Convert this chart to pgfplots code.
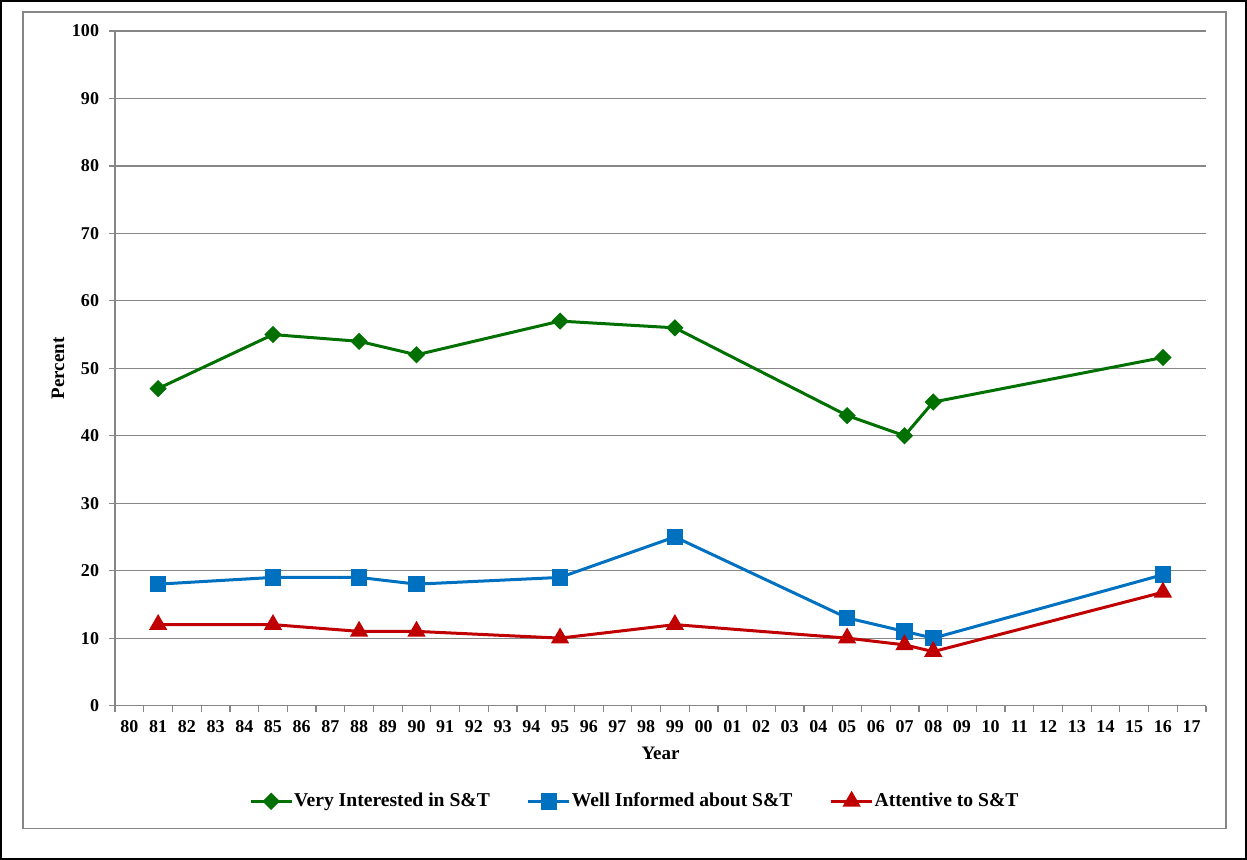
\documentclass[border=0pt]{standalone}
\usepackage{fontspec}
\setmainfont{Liberation Serif}
\usepackage{pgfplots}
\pgfplotsset{compat=1.18}
\definecolor{cgreen}{RGB}{0,112,0}
\definecolor{cblue}{RGB}{0,112,192}
\definecolor{cred}{RGB}{192,0,0}
\definecolor{gridc}{RGB}{134,134,134}
\begin{document}
\begin{tikzpicture}
\draw[black, line width=1pt] (-57pt,-76.5pt) rectangle (565pt,352pt);
\draw[gridc, line width=0.6pt] (-46pt,-61.5pt) rectangle (555pt,346.5pt);
\begin{axis}[
  at={(0pt,0pt)}, anchor=south west,
  scale only axis, width=545pt, height=337pt,
  xmin=-0.5, xmax=37.5, ymin=0, ymax=100,
  xtick={-0.5,0.5,...,37.5},
  x tick label as interval,
  xticklabels={80,81,82,83,84,85,86,87,88,89,90,91,92,93,94,95,96,97,98,99,00,01,02,03,04,05,06,07,08,09,10,11,12,13,14,15,16,17},
  ytick={0,10,...,100},
  tick align=outside,
  major tick length=3pt,
  axis x line*=bottom, axis y line*=left,
  axis line style={gridc, -, line width=0.6pt},
  tick style={gridc, line width=0.6pt},
  ymajorgrids, xmajorgrids=false, grid style={gridc, line width=0.6pt},
  ticklabel style={font=\bfseries\fontsize{9}{10}\selectfont},
  /pgf/number format/assume math mode=true,
  xticklabel style={yshift=-1pt},
  yticklabel style={xshift=-1.5pt},
  xlabel={Year}, ylabel={Percent},
  label style={font=\bfseries\fontsize{9.5}{11}\selectfont},
  xlabel style={yshift=0pt},
  ylabel style={yshift=-3pt},
  legend style={at={(0.476,-0.142)}, anchor=center, draw=none, fill=none,
    font=\bfseries\fontsize{9.8}{11}\selectfont, legend columns=3,
    /tikz/every even column/.append style={column sep=18pt},
    nodes={inner sep=0.5pt}},
  legend image code/.code={\draw[mark repeat=2,mark phase=2,#1] plot coordinates {(0cm,0cm) (0.36cm,0cm) (0.72cm,0cm)};},
  every axis plot/.append style={line width=1.5pt},
]
\addplot[cgreen, mark=square*, mark size=2.3pt, mark options={rotate=45}] coordinates {
 (1,47) (5,55) (8,54) (10,52) (15,57) (19,56) (25,43) (27,40) (28,45) (36,51.6)};
\addlegendentry{Very Interested in S\&T}
\addplot[cblue, mark=square*, mark size=3.4pt] coordinates {
 (1,18) (5,19) (8,19) (10,18) (15,19) (19,25) (25,13) (27,11) (28,10) (36,19.4)};
\addlegendentry{Well Informed about S\&T}
\addplot[cred, mark=triangle*, mark size=3.8pt] coordinates {
 (1,12) (5,12) (8,11) (10,11) (15,10) (19,12) (25,10) (27,9) (28,8) (36,16.8)};
\addlegendentry{Attentive to S\&T}
\end{axis}
\end{tikzpicture}
\end{document}
